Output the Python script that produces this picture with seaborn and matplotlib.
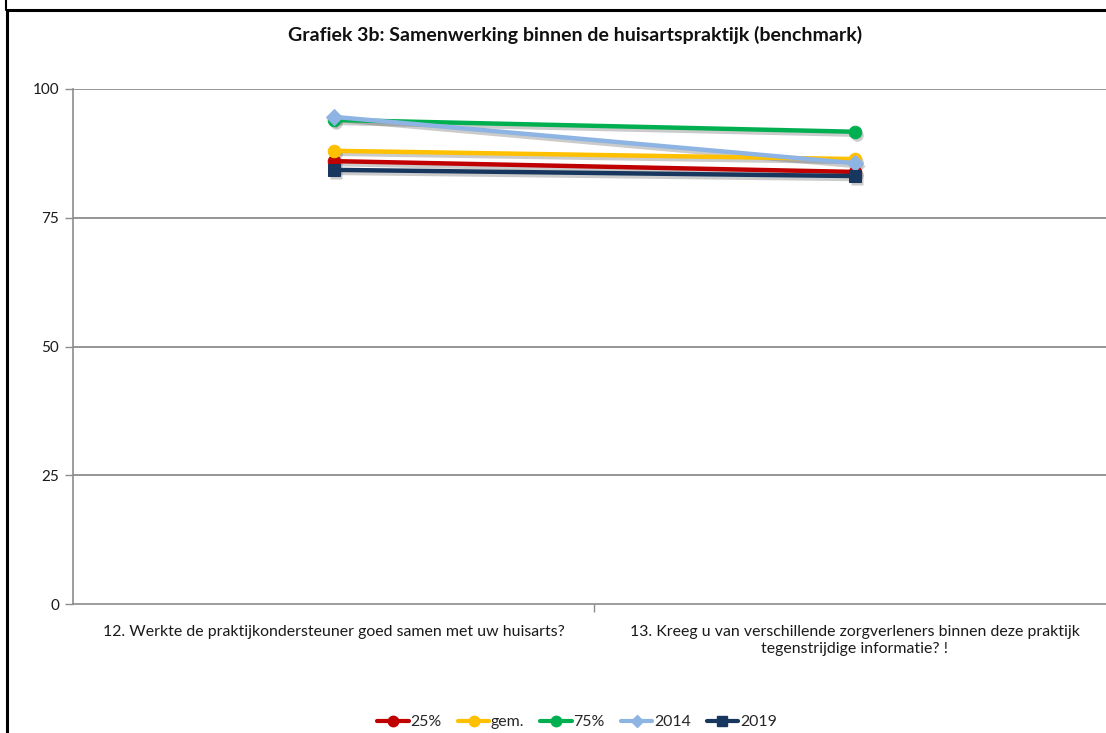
import matplotlib
matplotlib.use("Agg")
import matplotlib.pyplot as plt
import matplotlib.transforms as mtransforms
from matplotlib.lines import Line2D
import numpy as np
import pandas as pd
import seaborn as sns

# Survey questions (x categories)
categories = [
    "12. Werkte de praktijkondersteuner goed samen met uw huisarts?",
    "13. Kreeg u van verschillende zorgverleners binnen deze praktijk\ntegenstrijdige informatie? !",
]

# Benchmark series (scores 0-100)
series_names = ["25%", "gem.", "75%", "2014", "2019"]
p25 = [86.0, 83.9]
gem = [88.0, 86.4]
p75 = [94.0, 91.7]
y2014 = [94.6, 85.6]
y2019 = [84.3, 83.1]

y_ticks = [0, 25, 50, 75, 100]

colors = {"25%": "#C00000", "gem.": "#FFC000", "75%": "#00B050",
          "2014": "#8EB4E3", "2019": "#17375E"}
markers = {"25%": "o", "gem.": "o", "75%": "o", "2014": "D", "2019": "s"}
msizes = {"25%": 9, "gem.": 9, "75%": 9, "2014": 8, "2019": 8.5}

values = {"25%": p25, "gem.": gem, "75%": p75, "2014": y2014, "2019": y2019}
rows = []
for name in series_names:
    for i, v in enumerate(values[name]):
        rows.append({"pos": i, "value": v, "series": name})
df = pd.DataFrame(rows)

sns.set_theme(style="white")
plt.rcParams["font.family"] = ["Lato", "DejaVu Sans"]

W, H = 1106, 733
fig = plt.figure(figsize=(W / 100, H / 100), dpi=100)
fig.patch.set_facecolor("white")

# plot area in pixel coordinates
left, right, top, bottom = 73, 1115, 89, 604
ax = fig.add_axes([left / W, 1 - bottom / H, (right - left) / W, (bottom - top) / H])
ax.set_facecolor("white")

# soft drop shadows under each series
shadow_tr = mtransforms.offset_copy(ax.transData, fig=fig, x=2.5, y=-3, units="dots")
for name in series_names:
    sub = df[df["series"] == name]
    sns.lineplot(data=sub, x="pos", y="value", ax=ax, color="#555555", alpha=0.3,
                 marker=markers[name], markersize=msizes[name], markeredgecolor="none",
                 linewidth=3.2, legend=False, transform=shadow_tr, zorder=2)

for name in series_names:
    sub = df[df["series"] == name]
    sns.lineplot(data=sub, x="pos", y="value", ax=ax, color=colors[name],
                 marker=markers[name], markersize=msizes[name],
                 markeredgecolor=colors[name], linewidth=3.2, legend=False, zorder=3)

ax.set_xlim(-0.5, 1.5)
ax.set_ylim(0, 100)
ax.set_yticks(y_ticks)
ax.set_yticklabels([str(t) for t in y_ticks], fontsize=11, color="#1a1a1a")
ax.set_xticks([0, 1])
ax.set_xticklabels(categories, fontsize=11.4, color="#1a1a1a", linespacing=1.25)
ax.set_xlabel("")
ax.set_ylabel("")

# gridlines
for t in y_ticks[1:]:
    ax.axhline(t, color="#8c8c8c", linewidth=1.3, zorder=1)
for s in ["top", "right"]:
    ax.spines[s].set_visible(False)
ax.spines["left"].set_color("#8c8c8c")
ax.spines["bottom"].set_color("#8c8c8c")
ax.spines["left"].set_linewidth(1.2)
ax.spines["bottom"].set_linewidth(1.2)

# tick marks: y ticks outside left, x ticks between categories
ax.tick_params(axis="y", which="major", left=True, length=6, width=1, color="#8c8c8c", pad=4)
ax.tick_params(axis="x", which="major", bottom=False, pad=9)
ax.set_xticks([0.5, 1.5], minor=True)
ax.tick_params(axis="x", which="minor", bottom=True, length=6, width=1, color="#8c8c8c")

# title
fig.text(575 / W, 1 - 35 / H, "Grafiek 3b: Samenwerking binnen de huisartspraktijk (benchmark)",
         ha="center", va="center", fontsize=14, fontweight="bold", color="#111111")

# legend
handles = [Line2D([0], [0], color=colors[n], marker=markers[n], markersize=msizes[n] - 1.5,
                  linewidth=3, markeredgecolor=colors[n]) for n in series_names]
fig.legend(handles, series_names, loc="center", bbox_to_anchor=(577 / W, 1 - 722 / H),
           ncol=5, frameon=False, fontsize=11.4, handlelength=2.0, handletextpad=0.1,
           columnspacing=1.0)

# outer chart frame
frame_kw = dict(color="black", linewidth=2.2, transform=fig.transFigure, zorder=10)
fig.add_artist(Line2D([7 / W, 1.01], [1 - 10 / H, 1 - 10 / H], **frame_kw))
fig.add_artist(Line2D([7 / W, 7 / W], [1 - 10 / H, -0.01], **frame_kw))
fig.add_artist(Line2D([6 / W, 6 / W], [1.0, 1 - 10 / H], color="black", linewidth=1.5,
                      transform=fig.transFigure))

fig.savefig("out.png", dpi=100, facecolor="white")
